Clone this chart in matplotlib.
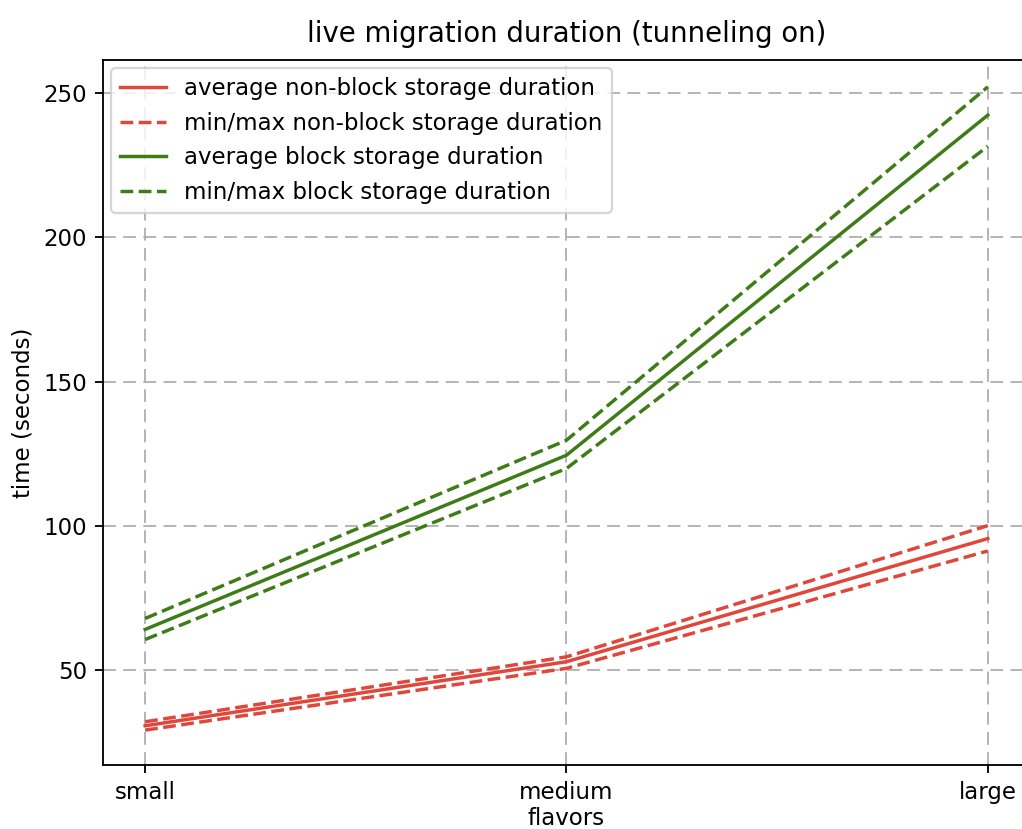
import numpy as np
import matplotlib
matplotlib.use("Agg")
from matplotlib import pyplot as plt

flavors = ["small", "medium", "large"]

# non-block storage (seconds)
nonblock_avg = [30.7, 52.9, 95.6]
nonblock_max = [32.1, 54.6, 100.1]
nonblock_min = [29.2, 50.6, 91.3]

# block storage (seconds)
block_avg = [64.1, 124.5, 242.4]
block_max = [67.9, 129.7, 252.2]
block_min = [60.6, 119.9, 231.6]

red = '#e0463a'
green = '#3e7c17'

dpi = 165
fig = plt.figure(figsize=(1022 / dpi, 829 / dpi), dpi=dpi)
ax = fig.add_axes([0.1008, 0.0772, 0.907, 0.8504])

x = np.arange(len(flavors))
ax.plot(x, nonblock_avg, color=red, label='average non-block storage duration')
ax.plot(x, nonblock_max, color=red, ls='--', label='min/max non-block storage duration')
ax.plot(x, nonblock_min, color=red, ls='--')
ax.plot(x, block_avg, color=green, label='average block storage duration')
ax.plot(x, block_max, color=green, ls='--', label='min/max block storage duration')
ax.plot(x, block_min, color=green, ls='--')

ax.set_xticks(x)
ax.set_xticklabels(flavors)
ax.set_yticks([50, 100, 150, 200, 250])
ax.set_ylim(17.1, 261.5)
ax.grid(True, ls=(0, (7, 4)), color='#b0b0b0', lw=0.8)
ax.set_title('live migration duration (tunneling on)', pad=8)
ax.set_xlabel('flavors', labelpad=1.5)
ax.set_ylabel('time (seconds)')
ax.legend(loc='upper left', borderaxespad=0.35)

fig.savefig('out.png', dpi=dpi)
